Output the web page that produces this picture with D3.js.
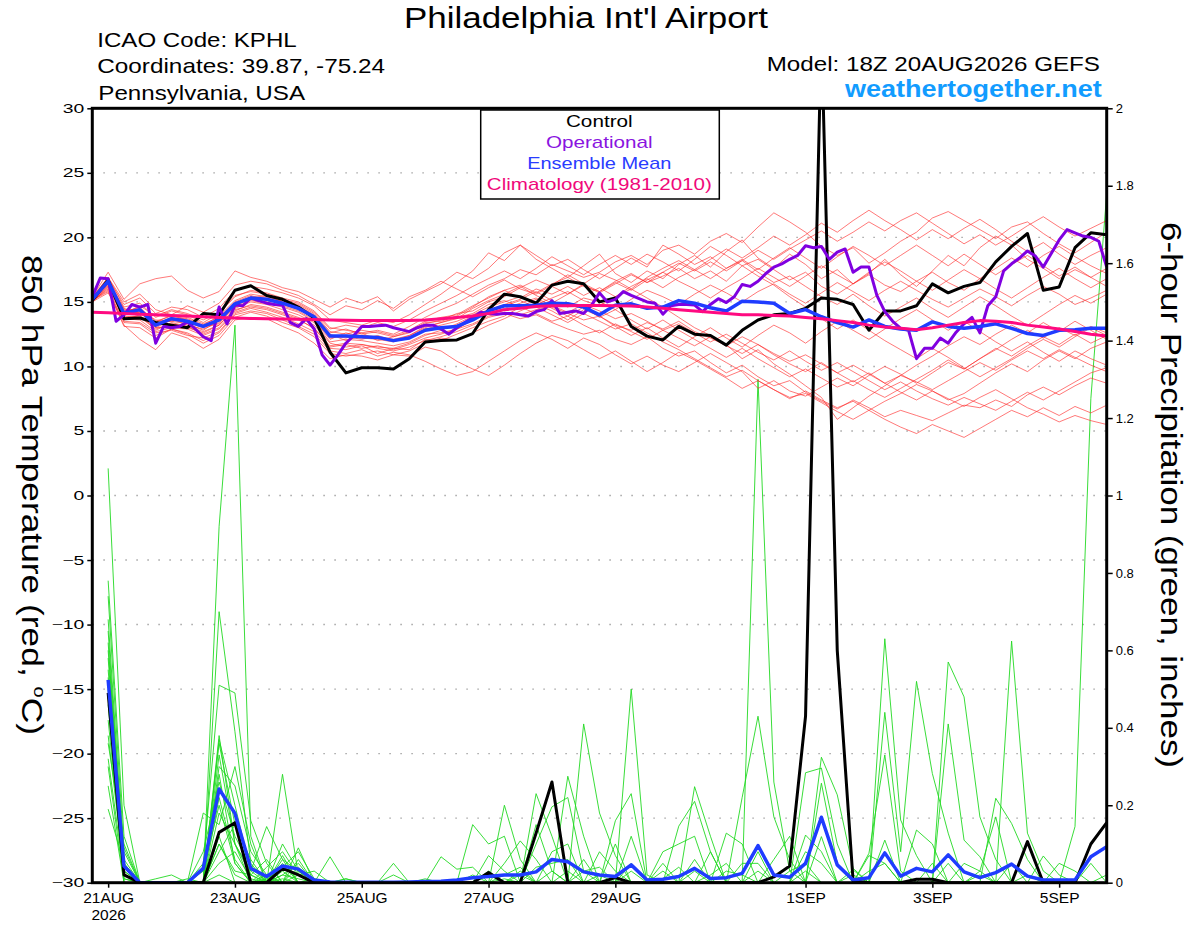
<!DOCTYPE html>
<html><head><meta charset="utf-8">
<script src="https://cdn.jsdelivr.net/npm/d3@7"></script>
<style>
body{margin:0;background:#fff}
svg{display:block}
text{font-family:"Liberation Sans",Arial,Helvetica,sans-serif}
</style>
</head><body>
<svg id="chart" width="1200" height="927"></svg>
<script>
// ---------------- DATA ----------------
const startTime = "2026-08-20T18:00:00Z";
const endTime   = "2026-09-05T18:00:00Z";
const xTickDates  = ["2026-08-21T00:00:00Z","2026-08-23T00:00:00Z","2026-08-25T00:00:00Z","2026-08-27T00:00:00Z","2026-08-29T00:00:00Z","2026-09-01T00:00:00Z","2026-09-03T00:00:00Z","2026-09-05T00:00:00Z"];
const xTickLabels = ["21AUG","23AUG","25AUG","27AUG","29AUG","1SEP","3SEP","5SEP"];
const tempTicks   = [-30,-25,-20,-15,-10,-5,0,5,10,15,20,25,30];
const precipTicks = [0,0.2,0.4,0.6,0.8,1,1.2,1.4,1.6,1.8,2];
const legendLabels = ["Control","Operational","Ensemble Mean","Climatology (1981-2010)"];

// 6-hourly control (black)
const controlTemp = [
15.1,16.7,13.7,13.75,13.4,13.2,13.0,14.1,14.0,15.9,16.25,15.5,15.2,
14.6,13.75,11.1,9.5,9.9,9.9,9.8,10.6,11.9,12.0,12.05,12.55,14.4,
15.6,15.4,14.9,16.3,16.6,16.4,15.0,15.3,13.1,12.35,12.05,13.1,12.5,
12.4,11.65,12.8,13.6,14.0,14.1,14.5,15.3,15.2,14.8,12.8,14.3,14.3,
14.7,16.4,15.7,16.2,16.5,18.1,19.3,20.3,15.9,16.15,19.2,20.35,20.2];
// 3-hourly operational (purple)
const operationalTemp = [
15.4,16.85,16.8,13.5,14.0,14.8,14.6,14.8,11.8,13.1,13.0,13.1,13.45,12.9,12.3,12.0,14.6,13.3,14.75,14.7,
15.3,15.1,14.9,14.8,14.75,13.4,13.1,13.7,12.9,10.9,10.1,10.9,11.8,12.4,13.1,13.1,13.15,13.2,13.0,
12.85,12.7,13.0,13.2,13.2,12.9,12.5,13.0,13.4,13.8,14.2,14.1,14.05,14.1,14.1,14.0,13.9,14.25,14.4,15.1,
14.1,14.2,14.3,14.1,14.75,15.7,15.0,15.2,15.8,15.5,15.25,15.0,14.9,14.05,14.7,14.8,14.8,14.75,14.25,14.8,15.25,
14.95,15.4,16.35,16.2,16.6,17.2,17.7,17.95,18.3,18.6,19.35,19.2,19.3,18.3,18.85,19.1,17.3,17.7,17.7,15.5,
14.25,13.5,12.95,12.8,10.6,11.4,11.4,12.2,11.8,12.65,13.3,13.8,12.6,14.7,15.4,17.4,17.95,18.4,18.95,18.55,
17.7,18.75,19.8,20.6,20.35,20.1,20.0,19.7,17.7];
// ensemble mean (blue)
const meanTemp = [
15.2,16.6,14.1,14.4,13.2,13.7,13.5,13.1,13.6,14.85,15.3,15.2,14.9,
14.5,13.85,12.35,12.35,12.3,12.25,12.0,12.2,12.8,13.0,13.1,13.6,14.3,
14.7,14.7,14.75,14.9,14.85,14.6,14.0,14.75,14.85,14.5,14.6,15.1,14.9,
14.55,14.3,15.05,15.0,14.9,14.1,14.4,13.85,13.4,13.05,13.6,13.1,12.9,
12.8,13.45,13.1,12.95,13.1,13.3,12.95,12.55,12.4,12.8,12.85,12.95,12.95];
// climatology (pink)
const climoTemp = [
14.2,14.15,14.1,14.05,14.0,13.95,13.9,13.85,13.8,13.75,13.72,13.7,13.68,
13.65,13.63,13.6,13.58,13.55,13.55,13.55,13.55,13.6,13.7,13.8,13.9,14.1,
14.4,14.5,14.65,14.7,14.7,14.72,14.72,14.7,14.68,14.6,14.5,14.4,14.3,
14.2,14.1,14.0,14.0,13.95,13.9,13.8,13.7,13.55,13.4,13.2,13.05,12.95,
12.85,13.0,13.2,13.4,13.55,13.5,13.4,13.2,13.05,12.9,12.7,12.5,12.35];

// ensemble members 850 hPa temperature (red)
const tempMember01 = [15.3,16.9,14.6,14.9,13.8,14.3,14.0,13.4,14.1,15.4,15.9,15.7,15.3, 15.0,14.3,13.0,12.8,12.6,12.8,12.5,13.1,13.8,14.4,14.9,15.6,16.3, 16.8,17.5,17.1,17.9,17.4,16.9,17.3,18.1,18.6,17.9,19.0,19.4,18.7, 19.7,20.3,19.6,20.8,21.9,21.2,20.4,19.3,18.6,19.2,18.0,18.8,19.7, 20.4,21.5,22.0,21.3,20.6,19.9,20.8,21.2,20.3,19.5,18.8,19.6,20.4];
const tempMember02 = [15.0,16.2,13.9,13.8,12.9,13.3,13.1,12.5,13.0,14.3,14.8,14.6,14.2, 13.8,13.2,11.8,11.5,11.7,11.4,11.2,11.5,12.0,12.3,12.7,13.2,13.8, 14.1,13.7,14.0,13.4,12.9,12.5,12.8,12.1,11.7,12.3,11.4,10.8,11.2, 10.3,9.5,10.1,9.2,8.5,8.9,8.0,7.3,6.7,7.4,6.8,6.1,6.6, 6.2,5.8,6.4,7.0,6.8,7.4,6.9,7.8,8.4,7.8,8.5,9.1,8.7];
const tempMember03 = [15.4,17.3,15.2,16.4,16.8,17.0,15.9,15.3,15.8,17.4,16.9,16.6,16.1, 15.8,15.2,14.6,15.3,14.9,15.4,14.3,15.2,15.8,16.4,17.3,16.8,17.6, 18.8,19.4,18.3,17.6,16.9,17.8,18.7,17.2,16.5,17.4,16.8,17.9,18.6, 17.7,18.9,19.8,18.4,17.6,18.7,17.9,16.8,17.5,16.4,17.2,18.3,17.1, 16.2,17.4,18.6,17.8,19.2,20.1,19.4,18.3,17.6,16.8,17.5,16.9,16.2];
const tempMember04 = [15.1,15.8,13.2,12.1,11.3,12.6,12.2,11.4,12.1,13.6,13.8,13.7,13.1, 12.6,11.8,10.6,10.9,10.8,10.5,10.9,10.8,11.5,11.2,10.4,9.8,9.3, 10.1,11.0,11.8,12.4,12.0,11.3,10.6,11.2,10.4,9.6,10.3,11.1,10.5, 9.8,9.1,8.3,8.9,8.2,7.6,7.9,7.2,6.5,5.9,6.6,7.3,7.9, 8.6,8.1,7.4,7.9,8.7,9.5,10.2,9.6,10.5,11.2,10.6,11.4,11.9];
const tempMember05 = [15.2,16.5,14.3,14.5,13.5,13.9,13.7,13.2,13.9,15.1,15.6,15.4,15.0, 14.7,14.0,12.6,12.9,12.5,12.7,12.4,12.8,13.5,13.8,14.0,14.7,15.3, 15.9,16.3,15.7,16.4,16.9,16.2,15.8,16.6,17.2,16.5,17.0,17.6,16.8, 17.4,16.6,17.8,18.3,17.5,16.7,17.3,16.2,15.6,16.4,17.1,16.3,15.8, 16.6,17.3,16.5,15.9,16.8,17.6,18.4,17.7,18.6,19.3,18.5,17.8,17.2];
const tempMember06 = [15.0,16.4,13.6,14.0,12.8,13.4,13.1,12.7,13.2,14.5,15.0,14.8,14.4, 14.0,13.4,11.9,12.1,12.0,11.8,11.6,11.9,12.5,12.6,12.9,13.3,13.9, 14.2,14.0,14.4,14.6,14.1,13.6,13.9,13.2,12.8,13.4,12.9,13.5,12.7, 12.2,11.6,12.3,11.7,11.0,10.4,10.9,10.2,9.5,10.1,9.4,8.7,9.3, 8.8,8.2,8.9,9.6,10.3,9.7,10.5,11.2,10.6,11.3,10.7,10.1,9.6];
const tempMember07 = [15.3,16.8,14.8,15.3,14.1,14.6,14.4,13.8,14.5,15.9,16.2,16.0,15.7, 15.3,14.7,13.6,13.4,13.2,13.6,13.4,14.0,14.8,15.6,16.5,17.4,18.8, 18.2,19.4,18.6,17.8,18.3,17.5,16.8,17.6,18.4,17.7,19.4,18.7,17.9, 18.5,17.6,18.2,17.3,16.5,17.0,16.2,15.4,14.8,15.6,14.7,13.9,14.6, 15.3,14.5,13.8,14.6,15.4,14.7,13.9,13.2,14.0,14.8,15.5,14.9,15.6];
const tempMember08 = [15.1,16.0,13.4,13.3,12.4,12.9,12.6,12.0,12.6,14.0,14.3,14.1,13.6, 13.1,12.5,11.2,11.0,11.3,10.8,11.1,10.9,10.4,9.8,9.3,9.6,10.4, 11.2,12.0,12.6,12.1,11.4,12.2,11.7,10.9,10.2,10.8,10.1,9.6,10.3, 11.0,10.3,9.6,8.3,8.9,8.1,7.7,8.4,9.1,8.5,9.3,10.0,9.4, 8.7,9.5,10.3,9.8,10.6,11.4,10.8,11.6,12.3,11.7,12.5,11.8,12.4];
const tempMember09 = [15.2,16.3,14.0,14.2,13.0,13.6,13.4,13.0,13.5,14.7,15.2,15.0,14.7, 14.3,13.6,12.2,12.4,12.2,12.1,11.9,12.3,12.9,13.2,13.5,14.0,14.6, 15.0,15.4,14.8,15.3,15.8,15.1,14.7,15.4,16.0,15.3,14.6,13.8,13.0, 12.4,11.7,10.6,11.3,10.2,9.4,8.5,7.6,5.9,6.8,7.7,8.5,9.3, 10.1,10.8,11.6,12.3,11.7,12.5,13.2,12.6,13.4,12.7,13.5,12.8,12.1];
const tempMember10 = [15.1,16.6,14.2,14.6,13.3,13.8,13.6,13.1,13.7,14.9,15.4,15.3,14.9, 14.5,13.9,12.4,12.3,12.1,12.4,12.0,12.3,12.9,13.0,13.2,13.7,14.4, 14.8,15.2,15.8,15.1,14.6,15.3,15.0,14.4,15.2,15.9,15.4,14.8,15.6, 16.3,15.7,15.0,15.8,16.4,15.6,14.9,15.7,16.5,15.8,15.1,15.9,16.6, 15.9,15.2,14.6,15.3,16.0,15.4,14.7,15.5,16.2,15.6,14.8,15.3,15.9];
const tempMember11 = [15.3,16.7,14.4,14.4,13.6,13.5,13.8,13.3,13.8,15.0,15.5,15.1,15.1, 14.8,14.1,12.7,12.5,12.8,12.6,12.3,12.6,13.3,13.6,14.1,14.3,15.0, 15.4,16.1,16.7,16.2,15.6,16.4,17.2,16.7,16.0,16.9,17.6,18.2,17.5, 18.3,19.1,18.4,19.2,20.1,19.4,20.2,21.1,20.4,21.3,22.1,21.3,20.6, 19.8,20.6,19.9,20.7,21.4,20.6,19.7,18.9,19.6,18.7,17.9,18.6,19.2];
const tempMember12 = [15.0,16.1,13.7,13.6,12.7,13.0,12.9,12.4,12.9,14.2,14.6,14.4,14.0, 13.6,13.0,11.5,11.7,11.4,11.6,11.3,11.7,12.2,12.5,12.9,13.6,14.1, 14.5,14.9,15.3,14.7,14.2,14.8,14.3,13.7,14.1,13.5,12.8,13.3,12.6, 11.9,12.5,11.8,11.1,10.5,11.2,10.4,9.7,10.3,9.6,8.9,8.2,8.8, 8.1,7.5,7.0,7.6,7.1,6.6,7.3,8.0,7.4,8.1,8.8,9.5,9.9];
const tempMember13 = [15.4,16.9,15.0,15.6,14.4,14.0,14.7,14.2,14.9,16.3,16.6,16.4,15.9, 15.5,14.8,14.0,14.7,14.4,15.1,14.5,15.4,15.9,16.6,16.0,15.4,16.1, 16.7,16.0,15.6,16.3,17.1,16.4,15.8,16.5,15.9,16.7,17.3,16.6,16.0, 15.3,16.1,16.8,17.6,16.9,16.2,17.0,17.8,17.1,16.4,17.3,18.1,17.4, 16.6,15.9,16.7,17.5,16.8,16.0,15.3,16.1,16.9,17.6,16.8,16.1,16.8];
const tempMember14 = [15.1,15.9,13.1,13.0,12.2,12.9,12.5,11.8,12.4,13.8,14.2,13.9,13.4, 13.0,12.3,11.0,10.8,11.0,11.2,10.9,11.2,11.8,12.2,12.0,12.6,13.2, 13.7,14.3,14.8,14.3,13.6,14.4,13.9,13.1,12.4,13.0,12.2,11.5,12.3, 13.0,12.2,11.5,12.4,13.2,12.6,11.8,12.7,13.5,12.8,12.1,12.9,13.7, 14.4,13.6,12.8,13.5,12.7,11.9,11.2,11.9,11.1,10.4,11.2,10.6,10.1];
const tempMember15 = [15.2,16.4,14.1,14.7,13.9,14.4,14.1,13.6,14.2,15.5,15.8,15.6,15.2, 14.9,14.2,12.9,13.2,13.0,13.4,13.1,13.6,14.3,14.9,15.5,16.2,16.8, 17.4,16.8,17.6,18.5,17.8,17.1,17.9,18.6,17.9,18.7,18.1,17.4,18.3, 19.3,18.6,17.8,17.0,16.3,15.4,14.6,13.7,12.9,13.6,12.8,12.0,11.3, 10.6,11.4,10.7,9.9,9.2,9.9,10.6,11.4,12.1,11.5,12.3,13.0,12.4];
const tempMember16 = [15.0,15.7,13.5,13.4,12.6,12.8,12.4,12.2,12.7,14.1,14.5,14.2,13.8, 13.3,12.7,11.4,11.3,11.6,11.0,11.4,11.3,12.1,12.0,12.5,13.0,13.5, 13.9,14.6,14.1,13.5,13.9,13.2,12.6,13.3,12.7,12.1,12.8,12.2,11.6, 12.3,11.6,11.0,11.7,10.9,10.2,9.6,10.3,9.5,8.8,9.5,8.7,8.0, 7.4,8.1,7.5,6.9,7.6,8.2,7.5,6.8,6.3,5.7,6.2,5.8,5.5];
const tempMember17 = [15.3,16.5,14.0,14.3,13.1,13.7,13.2,12.9,13.4,14.6,15.1,14.9,14.6, 14.2,13.5,12.1,12.6,12.3,12.2,12.0,12.4,13.0,13.4,13.7,14.5,15.1, 15.6,16.2,15.5,14.9,15.6,16.3,15.7,16.4,17.1,16.5,17.3,18.0,17.4, 18.1,17.4,18.2,19.0,18.3,19.1,19.8,20.5,19.7,20.4,21.2,20.5,21.3, 21.9,21.1,20.3,19.5,20.2,19.4,20.1,20.9,21.6,20.8,20.1,20.7,21.3];
const tempMember18 = [15.2,16.6,14.5,14.1,13.4,14.0,13.5,13.1,13.3,14.8,15.3,15.5,15.0, 14.6,13.7,12.5,12.0,12.4,12.3,12.1,12.4,13.1,13.4,13.8,14.1,14.8, 15.1,14.6,15.2,14.5,13.9,14.6,13.8,14.4,13.6,12.9,13.6,12.8,12.1, 11.4,10.7,11.4,10.6,9.9,9.2,9.8,9.1,8.4,8.9,8.2,7.6,8.3, 9.0,9.7,10.5,9.8,10.6,11.3,12.1,12.8,12.2,13.0,12.4,13.1,12.6];
const tempMember19 = [15.1,16.2,13.8,13.9,13.0,13.1,13.0,12.6,13.2,14.4,14.7,14.5,14.1, 13.7,12.9,11.6,11.8,11.7,11.5,11.4,11.8,12.4,12.8,13.3,13.9,14.4, 14.7,15.1,14.6,14.0,13.4,14.1,13.5,12.9,13.3,12.6,11.9,11.3,10.6, 9.9,9.2,9.7,8.9,8.2,7.5,8.1,7.4,6.8,7.3,6.6,5.9,5.3, 4.8,5.5,5.0,4.5,5.2,5.9,6.6,6.1,6.8,6.2,6.9,6.4,7.0];
const tempMember20 = [15.2,16.4,14.2,14.2,13.4,13.5,13.3,12.8,13.6,14.9,15.2,14.9,14.8, 14.4,13.9,12.4,12.2,12.6,12.0,12.3,12.7,13.4,13.5,13.9,14.6,15.4, 15.9,15.3,16.0,15.6,16.2,15.5,16.1,15.4,16.2,16.8,16.1,16.9,17.5, 16.8,17.6,18.3,17.5,18.4,19.2,18.4,17.6,18.5,19.3,18.6,17.8,18.6, 19.4,18.6,17.8,18.7,17.9,17.1,17.9,18.6,17.8,17.0,17.7,16.9,17.6];

// 6-hour precipitation (inches); first time step has no accumulation
const controlPrecip = [
null,0.49,0.02,0,0,0,0,0,0.13,0.155,0,0,0.037,
0.02,0,0,0,0,0,0,0,0,0,0,0,0.026,
0,0,0.128,0.26,0,0,0,0.013,0,0,0,0,0,
0,0,0,0,0.015,0.043,0.43,2.2,0.6,0.005,0,0,0,
0.009,0.009,0,0,0,0,0,0.106,0,0,0,0.10,0.155];
const meanPrecip = [
null,0.524,0.043,0,0,0,0,0.037,0.242,0.179,0.037,0.016,0.043,
0.035,0.007,0.002,0.001,0.001,0.001,0.001,0.002,0.003,0.004,0.007,0.013,0.016,
0.02,0.02,0.028,0.06,0.054,0.028,0.02,0.016,0.046,0.007,0.009,0.016,0.037,
0.011,0.013,0.024,0.096,0.02,0.014,0.05,0.169,0.046,0.007,0.013,0.077,0.017,
0.037,0.028,0.072,0.028,0.013,0.026,0.048,0.017,0.007,0.007,0.007,0.067,0.093];

const precipMember01 = [null,1.07,0.2,0,0,0,0,0,0.92,1.44,0.12,0,0, 0,0,0,0,0,0,0,0,0,0,0,0,0, 0.2,0.06,0,0,0,0.06,0,0,0.05,0,0,0,0, 0,0,0,0.08,0,0,0,0.119,0,0,0,0.11,0, 0,0,0.05,0,0,0,0.05,0,0,0,0,0.05,0];
const precipMember02 = [null,0.78,0.12,0,0,0,0,0,0.70,0.39,0.05,0,0.28, 0.02,0,0,0,0,0,0,0,0,0,0,0,0, 0,0,0.23,0.12,0,0,0,0,0.50,0.02,0,0,0, 0,0,0,1.30,0.26,0.03,0,0,0,0,0,0.63,0.162, 0.07,0,0,0,0,0,0.624,0.128,0.03,0,0,0,0];
const precipMember03 = [null,0.74,0.08,0,0,0,0,0.05,0.51,0.49,0.16,0.05,0, 0.09,0,0,0,0,0,0,0,0,0,0,0.15,0.10, 0.12,0,0,0,0.275,0.12,0,0,0,0,0,0,0.248, 0.12,0,0,0,0,0,0,0.324,0.227,0.037,0,0,0, 0,0,0.57,0.48,0.17,0.06,0,0,0,0,0.145,1.25,1.78];
const precipMember04 = [null,0.68,0.05,0,0,0,0,0,0.37,0.2,0.03,0.145,0.06, 0,0,0,0,0,0,0,0,0,0,0,0,0, 0,0,0,0,0,0.41,0.18,0.07,0,0,0,0,0, 0,0,0.22,0.43,0.17,0.06,0,0,0,0,0,0.44,0.08, 0.52,0.282,0.128,0,0,0,0,0,0,0.05,0.03,0,0];
const precipMember05 = [null,0.65,0.03,0,0,0,0,0,0.36,0.15,0.02,0,0.1, 0.03,0,0.067,0,0,0,0,0,0,0,0,0,0, 0,0,0.1,0.196,0.22,0.03,0,0,0,0,0,0.146,0.21, 0.08,0,0,0,0,0,0.284,0.296,0.1,0,0.076,0.33,0.03, 0,0,0,0,0,0.218,0.153,0.06,0,0,0,0,0];
const precipMember06 = [null,0.62,0.02,0,0,0,0,0,0.38,0.1,0,0,0.02, 0.05,0,0,0,0,0,0,0,0,0.067,0.035,0.04,0, 0,0,0,0,0,0,0,0.16,0.23,0,0,0,0, 0,0.128,0.1,0,0,0,0,0.257,0.05,0,0,0,0, 0,0,0.41,0.11,0.067,0,0,0,0.069,0.02,0,0,0];
const precipMember07 = [null,0.6,0.06,0,0,0,0,0.08,0.26,0.12,0.04,0,0.05, 0,0,0,0,0,0,0,0,0,0,0,0,0, 0.05,0.108,0.06,0,0,0,0,0,0,0,0.08,0.1,0.12, 0,0,0,0,0,0,0.123,0.08,0,0,0.07,0.05,0, 0,0,0,0.05,0.03,0.17,0,0,0,0,0,0,0.02];
const precipMember08 = [null,0.58,0.01,0,0,0,0,0,0.3,0.25,0.08,0.02,0, 0,0,0,0,0,0,0,0,0,0,0,0,0.07, 0.03,0,0,0.08,0.1,0,0.08,0.03,0,0,0,0,0, 0.02,0.05,0,0,0.06,0.12,0,0,0,0,0,0,0, 0.136,0.1,0,0,0,0,0,0,0,0,0,0,0];
const precipMember09 = [null,0.55,0.04,0,0,0,0,0.03,0.2,0.05,0,0.04,0.08, 0.02,0.03,0,0,0,0,0.05,0,0,0,0,0,0, 0,0,0.04,0.05,0.06,0,0,0,0.12,0,0.03,0,0, 0,0,0.05,0.05,0,0,0.08,0.05,0,0.033,0,0,0, 0,0.05,0,0,0,0,0,0,0,0,0,0,0];
const precipMember10 = [null,0.53,0,0,0,0,0,0.18,0.15,0.3,0.1,0,0, 0.06,0,0,0,0,0,0,0,0,0,0,0,0, 0.02,0.04,0,0,0,0.03,0.04,0,0,0,0,0,0.06, 0,0,0,0,0,0.03,0.05,0,0,0,0.03,0.05,0, 0,0,0,0,0.02,0,0,0.02,0,0,0,0,0];
const precipMember11 = [null,0.5,0.02,0,0,0,0,0,0.1,0.02,0,0,0.04, 0.08,0.01,0,0,0,0,0,0,0,0,0,0,0.03, 0,0,0.15,0.03,0,0,0,0,0,0,0.05,0,0.03, 0,0,0,0.03,0,0,0,0,0,0,0,0,0, 0,0,0,0,0,0,0,0,0,0,0,0,0];
const precipMember12 = [null,0.48,0.09,0,0,0,0,0,0.33,0.1,0.02,0.06,0, 0,0,0,0,0,0,0.02,0,0,0,0,0.02,0, 0.01,0,0,0.03,0,0,0,0.1,0,0,0,0,0, 0,0.03,0.02,0,0,0,0.03,0,0,0.02,0,0,0, 0,0,0,0,0.03,0,0,0,0,0,0,0,0];
const precipMember13 = [null,0.46,0,0,0,0,0,0,0.05,0.08,0.01,0,0.06, 0.03,0,0,0,0,0,0,0,0,0,0,0,0.02, 0,0.02,0,0,0.03,0,0.02,0,0,0,0.01,0.04,0, 0.08,0,0,0,0,0,0,0,0,0,0,0,0, 0,0,0,0,0,0,0,0,0,0,0,0,0];
const precipMember14 = [null,0.42,0.01,0,0,0,0,0,0.12,0,0,0.01,0, 0,0,0,0,0,0,0,0,0.01,0,0,0,0, 0,0.03,0,0,0,0,0,0,0.03,0,0,0,0, 0,0,0,0,0,0,0,0,0,0,0,0,0, 0,0,0,0,0,0,0,0,0,0,0,0,0];
const precipMember15 = [null,0.38,0.03,0,0,0,0,0,0.08,0.15,0.06,0,0.02, 0.01,0,0,0.01,0,0,0,0,0,0,0,0,0, 0,0,0,0,0,0,0,0,0,0,0,0,0, 0,0,0,0,0,0,0,0,0,0,0,0,0, 0,0,0,0,0,0,0,0,0,0,0,0,0];
const precipMember16 = [null,0.36,0.1,0,0,0,0,0,0.22,0.06,0,0,0.03, 0,0.01,0,0.01,0,0,0,0,0,0,0,0,0, 0,0,0,0,0,0,0,0,0,0,0,0,0, 0,0,0,0,0,0,0,0,0,0,0,0,0, 0,0,0,0,0,0,0,0,0,0,0,0,0];
const precipMember17 = [null,0.32,0.02,0,0,0,0,0,0.02,0,0,0.02,0, 0.02,0,0,0,0,0,0,0,0,0,0,0,0, 0,0,0,0,0,0,0,0,0,0,0,0,0, 0,0,0,0,0,0,0,0,0,0,0,0,0, 0,0,0,0,0,0,0,0,0,0,0,0,0];
const precipMember18 = [null,0.25,0,0,0,0,0,0,0.18,0.1,0.03,0,0.07, 0,0,0,0,0,0,0,0,0,0,0,0,0, 0,0,0,0,0,0,0,0,0,0,0,0,0, 0,0,0,0,0,0,0,0,0,0,0,0,0, 0,0,0,0,0,0,0,0,0,0,0,0,0];
const precipMember19 = [null,0.19,0.05,0,0.01,0.02,0,0,0.28,0.05,0,0,0.01, 0,0,0,0,0,0,0,0,0,0,0,0,0, 0,0,0,0,0,0,0,0,0,0,0,0,0, 0,0,0,0,0,0,0,0,0,0,0,0,0, 0,0,0,0,0,0,0,0,0,0,0,0,0];
const precipMember20 = [null,0.3,0,0,0,0,0.01,0,0.1,0.03,0.02,0,0, 0.04,0,0,0,0,0,0,0,0,0,0,0,0, 0,0,0,0,0,0,0,0,0,0,0,0,0, 0,0,0,0,0,0,0,0,0,0,0,0,0, 0,0,0,0,0,0,0,0,0,0,0,0,0];

const tempMembers = [tempMember01,tempMember02,tempMember03,tempMember04,tempMember05,tempMember06,tempMember07,tempMember08,tempMember09,tempMember10,tempMember11,tempMember12,tempMember13,tempMember14,tempMember15,tempMember16,tempMember17,tempMember18,tempMember19,tempMember20];
const precipMembers = [precipMember01,precipMember02,precipMember03,precipMember04,precipMember05,precipMember06,precipMember07,precipMember08,precipMember09,precipMember10,precipMember11,precipMember12,precipMember13,precipMember14,precipMember15,precipMember16,precipMember17,precipMember18,precipMember19,precipMember20];

// ---------------- CHART ----------------
const W = 1200, H = 927;
const P = {left: 92.3, right: 1106.7, top: 108.3, bottom: 882.7};
const svg = d3.select("#chart");
svg.append("rect").attr("width", W).attr("height", H).attr("fill", "#fff");

const t0 = new Date(startTime).getTime();
const HOUR = 3600e3;
const x = d3.scaleUtc().domain([new Date(startTime), new Date(endTime)]).range([P.left, P.right]);
const yT = d3.scaleLinear().domain([-30, 30]).range([P.bottom, P.top]);
const yP = d3.scaleLinear().domain([0, 2]).range([P.bottom, P.top]);

const timeAt = (i, step) => new Date(t0 + i * step * HOUR);
const pairs = (arr, step) => arr.map((v, i) => [timeAt(i, step), v]);

// clip
svg.append("defs").append("clipPath").attr("id", "plotclip")
  .append("rect").attr("x", P.left).attr("y", P.top)
  .attr("width", P.right - P.left).attr("height", P.bottom - P.top);

// grid lines
svg.append("g").selectAll("line").data(tempTicks.filter(t => t > -30 && t < 30)).join("line")
  .attr("x1", P.left).attr("x2", P.right)
  .attr("y1", d => yT(d)).attr("y2", d => yT(d))
  .attr("stroke", "#aaaaaa").attr("stroke-width", 1.4).attr("stroke-dasharray", "1.6,9.4");

const lineT = d3.line().defined(d => d[1] != null).x(d => x(d[0])).y(d => yT(d[1]));
const lineP = d3.line().defined(d => d[1] != null).x(d => x(d[0])).y(d => yP(d[1]));

const data = svg.append("g").attr("clip-path", "url(#plotclip)");

// precipitation members (green)
data.append("g").selectAll("path").data(precipMembers).join("path")
  .attr("d", d => lineP(pairs(d, 6)))
  .attr("fill", "none").attr("stroke", "#22d922").attr("stroke-width", 0.9).attr("stroke-linejoin", "round");

// temperature members (red)
data.append("g").selectAll("path").data(tempMembers).join("path")
  .attr("d", d => lineT(pairs(d, 6)))
  .attr("fill", "none").attr("stroke", "#ff2a2a").attr("stroke-opacity", 0.7).attr("stroke-width", 0.9).attr("stroke-linejoin", "round");

// control & mean precipitation
data.append("path").attr("d", lineP(pairs(controlPrecip, 6)))
  .attr("fill", "none").attr("stroke", "#000").attr("stroke-width", 3).attr("stroke-linejoin", "round");
data.append("path").attr("d", lineP(pairs(meanPrecip, 6)))
  .attr("fill", "none").attr("stroke", "#1f3cff").attr("stroke-width", 3.5).attr("stroke-linejoin", "round");

// temperature main lines
data.append("path").attr("d", lineT(pairs(controlTemp, 6)))
  .attr("fill", "none").attr("stroke", "#000").attr("stroke-width", 3).attr("stroke-linejoin", "round");
data.append("path").attr("d", lineT(pairs(operationalTemp, 3)))
  .attr("fill", "none").attr("stroke", "#8000e0").attr("stroke-width", 3).attr("stroke-linejoin", "round");
data.append("path").attr("d", lineT(pairs(meanTemp, 6)))
  .attr("fill", "none").attr("stroke", "#1f3cff").attr("stroke-width", 3.5).attr("stroke-linejoin", "round");
data.append("path").attr("d", lineT(pairs(climoTemp, 6)))
  .attr("fill", "none").attr("stroke", "#ff0a80").attr("stroke-width", 3).attr("stroke-linejoin", "round");

// axes
const axL = svg.append("g").attr("transform", `translate(${P.left},0)`)
  .call(d3.axisLeft(yT).tickValues(tempTicks).tickSize(5).tickPadding(2).tickFormat(d3.format("d")));
axL.select(".domain").remove();
axL.selectAll(".tick line").attr("stroke-width", 1.5);
axL.selectAll(".tick text").attr("font-size", 12.5).attr("font-family", "Liberation Sans, Arial, sans-serif")
  .attr("fill", "#000").attr("x", -8 / 1.55).attr("transform", "scale(1.55,1)");

const axR = svg.append("g").attr("transform", `translate(${P.right},0)`)
  .call(d3.axisRight(yP).tickValues(precipTicks).tickSize(6).tickPadding(3).tickFormat(d3.format("~g")));
axR.select(".domain").remove();
axR.selectAll(".tick line").attr("stroke-width", 1.5);
axR.selectAll(".tick text").attr("font-size", 13).attr("font-family", "Liberation Sans, Arial, sans-serif").attr("fill", "#000");

const axB = svg.append("g").attr("transform", `translate(0,${P.bottom})`)
  .call(d3.axisBottom(x).tickValues(xTickDates.map(d => new Date(d))).tickSize(5).tickPadding(4)
    .tickFormat((d, i) => xTickLabels[i]));
axB.select(".domain").remove();
axB.selectAll(".tick line").attr("stroke-width", 1.5);
axB.selectAll(".tick text").attr("font-size", 15.5).attr("font-family", "Liberation Sans, Arial, sans-serif").attr("fill", "#000");
axB.select(".tick text").append("tspan").attr("x", 0).attr("dy", "1.1em").text("2026");

// frame
svg.append("rect").attr("x", P.left).attr("y", P.top)
  .attr("width", P.right - P.left).attr("height", P.bottom - P.top)
  .attr("fill", "none").attr("stroke", "#000").attr("stroke-width", 3);

// legend
const lg = svg.append("g");
lg.append("rect").attr("x", 480.7).attr("y", 110).attr("width", 238.6).attr("height", 89)
  .attr("fill", "#fff").attr("stroke", "#000").attr("stroke-width", 1.5);
const legendColors = ["#000", "#8a14e0", "#2a3cff", "#f0087a"];
const legendWidths = [66.7, 106.7, 144.3, 225];
const legendY = [127.3, 148.3, 169.3, 190.3];
legendLabels.forEach((t, i) => {
  lg.append("text").attr("x", 599.3).attr("y", legendY[i]).attr("text-anchor", "middle")
    .attr("font-size", 17).attr("fill", legendColors[i])
    .attr("textLength", legendWidths[i]).attr("lengthAdjust", "spacingAndGlyphs").text(t);
});

// header texts
function txt(s, xx, yy, size, anchor, len, color, weight) {
  return svg.append("text").attr("x", xx).attr("y", yy).attr("font-size", size)
    .attr("text-anchor", anchor).attr("fill", color || "#000").attr("font-weight", weight || "normal")
    .attr("textLength", len).attr("lengthAdjust", "spacingAndGlyphs").text(s);
}
txt("Philadelphia Int'l Airport", 586, 28, 29, "middle", 364);
txt("ICAO Code: KPHL", 97.3, 46.7, 21, "start", 199.4);
txt("Coordinates: 39.87, -75.24", 97.3, 73.3, 21, "start", 287.7);
txt("Pennsylvania, USA", 98.3, 100, 21, "start", 206.7);
txt("Model: 18Z 20AUG2026 GEFS", 1100, 70.7, 21, "end", 333.3);
txt("weathertogether.net", 1101.7, 97, 24, "end", 256.7, "#129cff", "bold");

// axis titles (read top to bottom)
const lt = svg.append("text").attr("transform", "translate(22,495) rotate(90)")
  .attr("text-anchor", "middle").attr("font-size", 30).attr("fill", "#000")
  .attr("textLength", 480).attr("lengthAdjust", "spacingAndGlyphs");
lt.append("tspan").text("850 hPa Temperature (red, ");
lt.append("tspan").attr("font-size", 17).attr("dy", -12).text("o");
lt.append("tspan").attr("dy", 12).text("C)");

svg.append("text").attr("transform", "translate(1161,495) rotate(90)")
  .attr("text-anchor", "middle").attr("font-size", 30).attr("fill", "#000")
  .attr("textLength", 546).attr("lengthAdjust", "spacingAndGlyphs")
  .text("6-hour Precipitation (green, inches)");
</script>
</body></html>
